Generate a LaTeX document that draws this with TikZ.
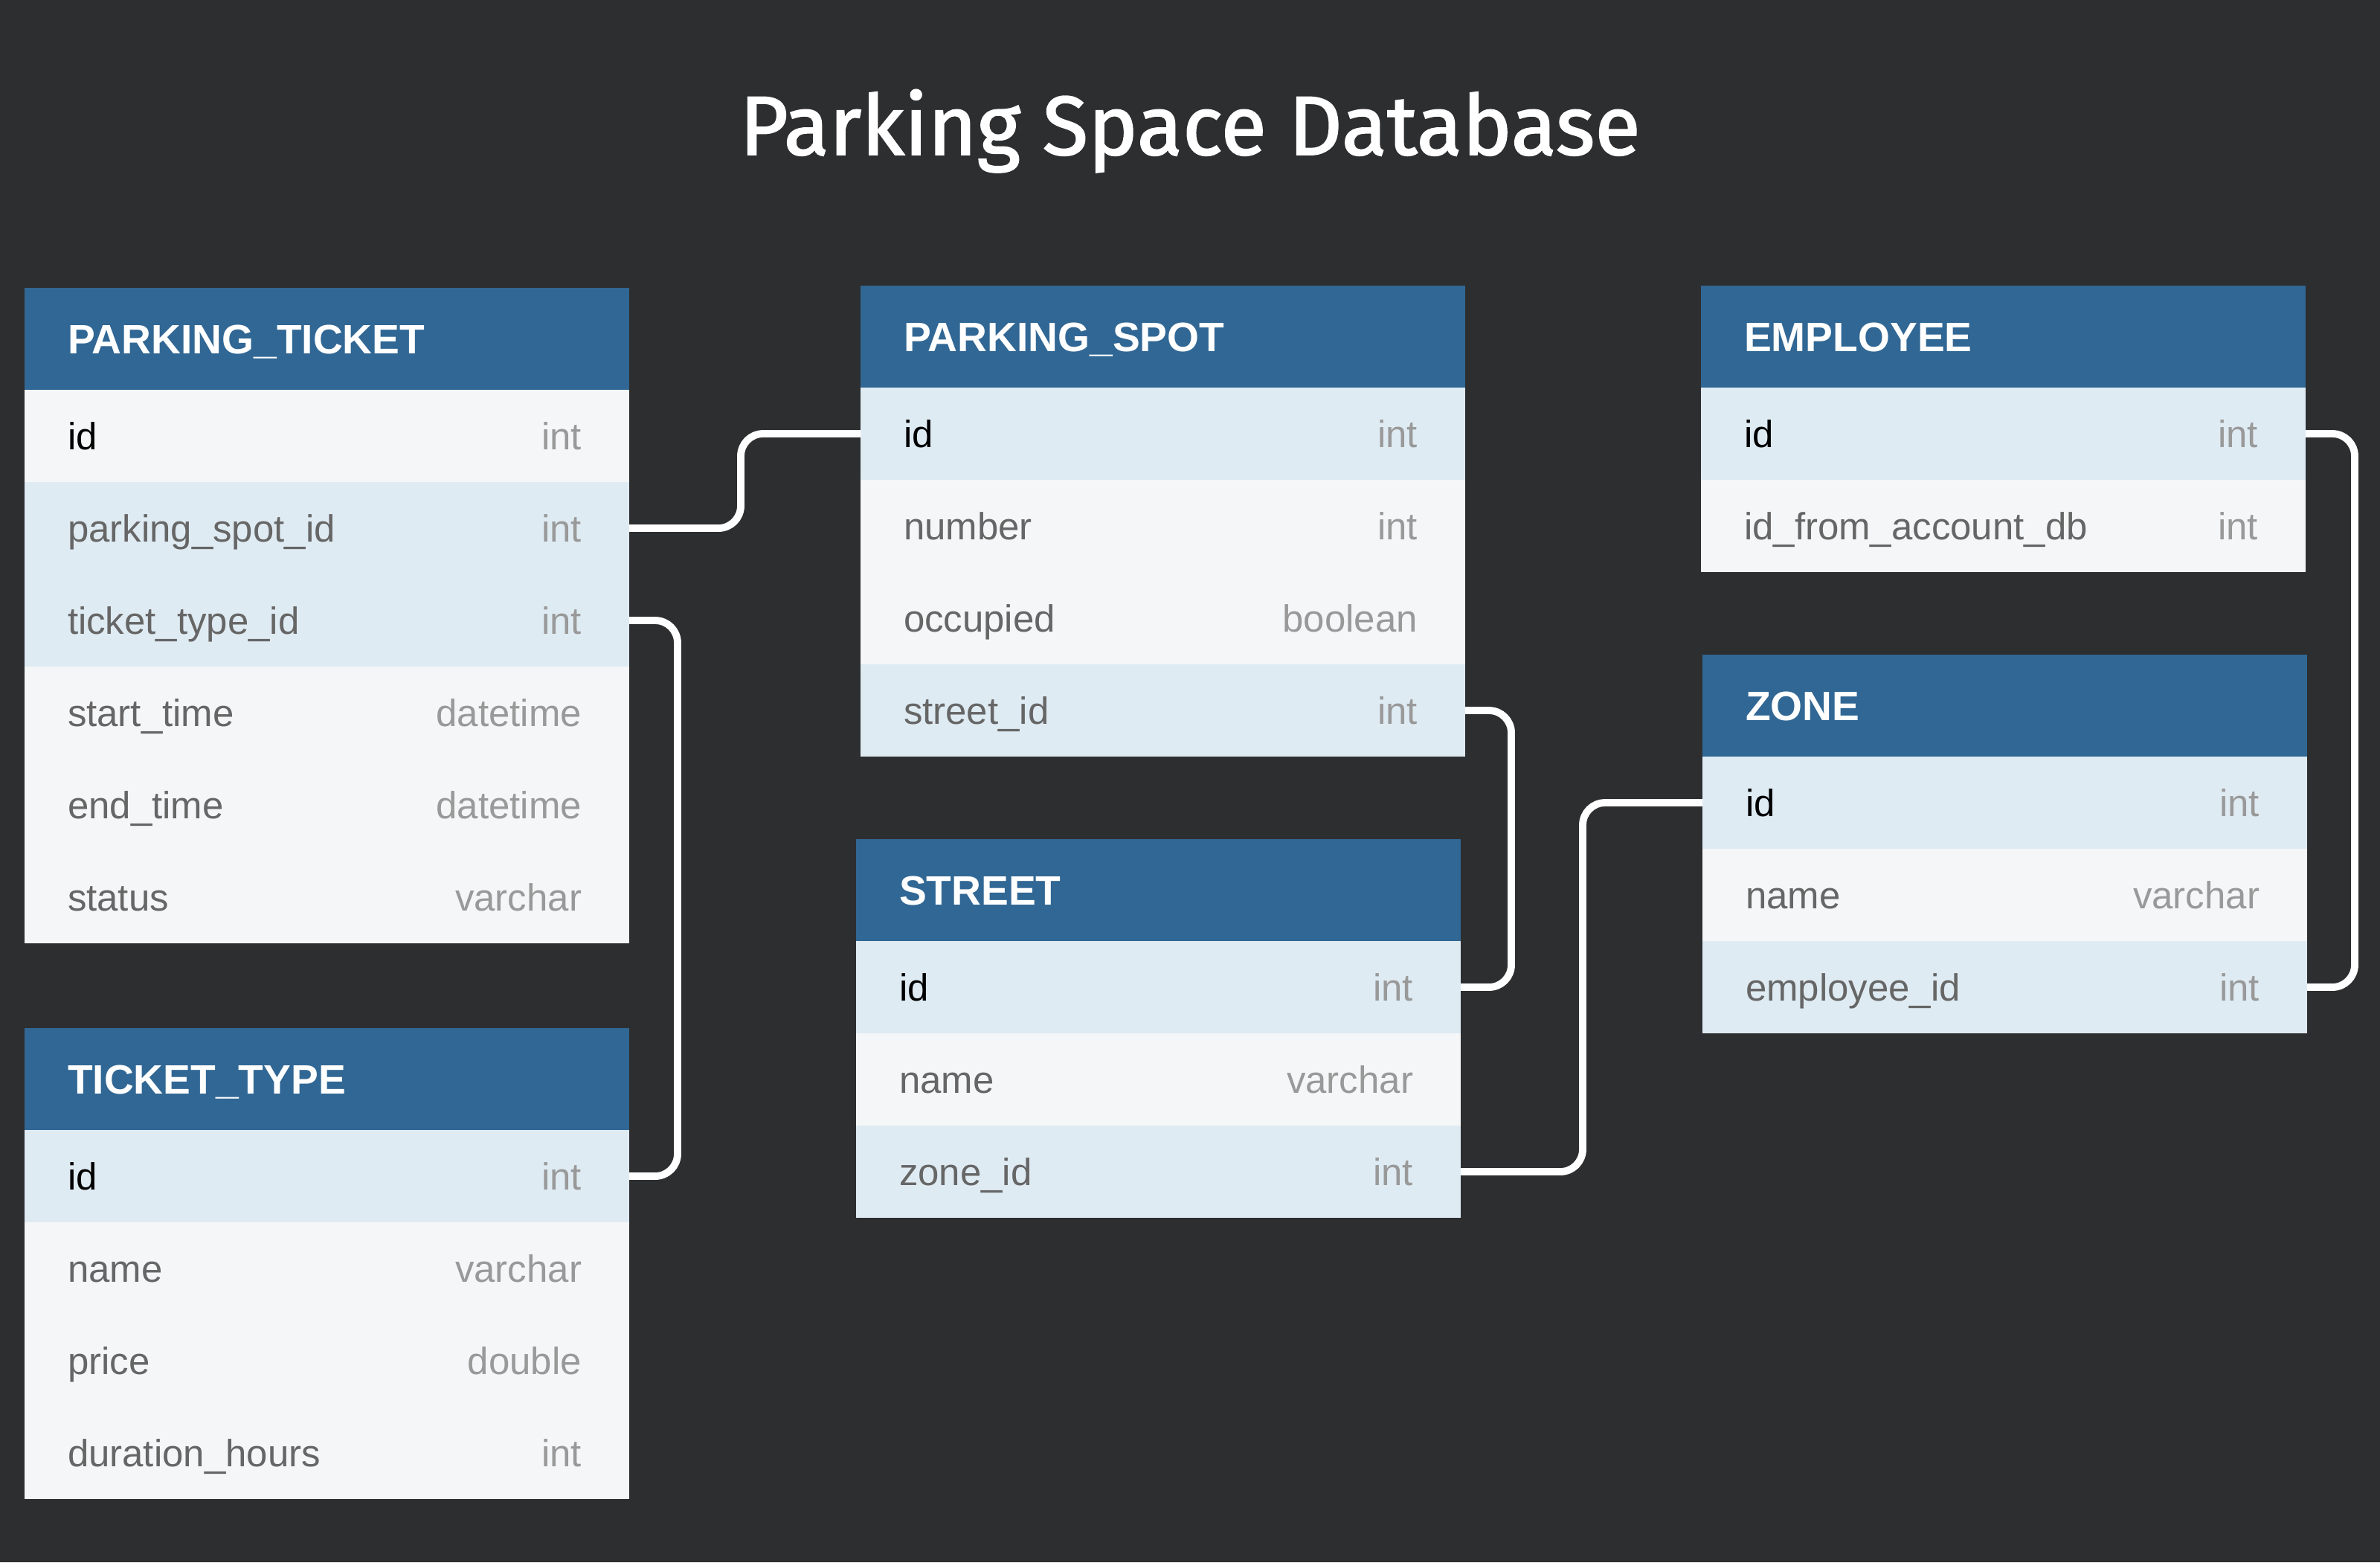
\documentclass[tikz,border=0pt]{standalone}
\usepackage{fontspec}
\setmainfont{Liberation Sans}
\newfontfamily\titlefont[FakeBold=1.6]{Fira Sans}
\usetikzlibrary{positioning}
\definecolor{bgdark}{HTML}{2D2E30}
\definecolor{headblue}{HTML}{316794}
\definecolor{rowblue}{HTML}{DFEBF3}
\definecolor{rowgray}{HTML}{F5F6F7}
\definecolor{namegray}{HTML}{666666}
\definecolor{typegray}{HTML}{999999}

\begin{document}
\begin{tikzpicture}[outer sep=0pt,
    thead/.style={anchor=north west,fill=headblue,text=white,font=\bfseries\fontsize{15.7}{18}\selectfont,
      text width=6.97cm,align=left,inner xsep=0.58cm,inner ysep=0pt,minimum height=1.37cm,
      text height=0.42cm,text depth=0.02cm},
    field/.style={fill=rowgray,text=namegray,font=\fontsize{14.5}{17}\selectfont,
      text width=6.97cm,align=left,inner xsep=0.58cm,inner ysep=0pt,minimum height=1.24cm,
      text height=0.40cm,text depth=0.04cm,below=0pt of #1},
    keyfield/.style={field=#1,fill=rowblue},
    pk/.style={text=black},
    typetext/.style={anchor=east,xshift=-0.64cm,inner sep=0pt,text=typegray,
      font=\fontsize{14.5}{17}\selectfont,text height=0.40cm,text depth=0.04cm},
    typ/.style={label={[typetext]east:#1}},
    link/.style={draw=white,line width=2.8pt,rounded corners=0.3cm}]
  \fill[bgdark] (0,0) rectangle (32,-21);
  \node[anchor=base,text=white,font=\titlefont\fontsize{32}{37}\selectfont] (title) at (16,-2.08) {Parking Space Database};

  % PARKING_TICKET
  \node[thead] (pt) at (0.33,-3.87) {PARKING\_TICKET};
  \node[field=pt,pk,typ=int] (pt-id) {id};
  \node[keyfield=pt-id,typ=int] (pt-spot) {parking\_spot\_id};
  \node[keyfield=pt-spot,typ=int] (pt-type) {ticket\_type\_id};
  \node[field=pt-type,typ=datetime] (pt-start) {start\_time};
  \node[field=pt-start,typ=datetime] (pt-end) {end\_time};
  \node[field=pt-end,typ=varchar] (pt-status) {status};

  % TICKET_TYPE
  \node[thead] (tt) at (0.33,-13.82) {TICKET\_TYPE};
  \node[keyfield=tt,pk,typ=int] (tt-id) {id};
  \node[field=tt-id,typ=varchar] (tt-name) {name};
  \node[field=tt-name,typ=double] (tt-price) {price};
  \node[field=tt-price,typ=int] (tt-hours) {duration\_hours};

  % PARKING_SPOT
  \node[thead] (ps) at (11.57,-3.84) {PARKING\_SPOT};
  \node[keyfield=ps,pk,typ=int] (ps-id) {id};
  \node[field=ps-id,typ=int] (ps-number) {number};
  \node[field=ps-number,typ=boolean] (ps-occupied) {occupied};
  \node[keyfield=ps-occupied,typ=int] (ps-street) {street\_id};

  % STREET
  \node[thead] (st) at (11.51,-11.28) {STREET};
  \node[keyfield=st,pk,typ=int] (st-id) {id};
  \node[field=st-id,typ=varchar] (st-name) {name};
  \node[keyfield=st-name,typ=int] (st-zone) {zone\_id};

  % EMPLOYEE
  \node[thead] (em) at (22.87,-3.84) {EMPLOYEE};
  \node[keyfield=em,pk,typ=int] (em-id) {id};
  \node[field=em-id,typ=int] (em-account) {id\_from\_account\_db};

  % ZONE
  \node[thead] (zn) at (22.89,-8.80) {ZONE};
  \node[keyfield=zn,pk,typ=int] (zn-id) {id};
  \node[field=zn-id,typ=varchar] (zn-name) {name};
  \node[keyfield=zn-name,typ=int] (zn-emp) {employee\_id};

  % relations
  \draw[link] (pt-spot.east) -- ([xshift=1.5cm]pt-spot.east) |- (ps-id.west);
  \draw[link] (pt-type.east) -- ([xshift=0.65cm]pt-type.east) |- (tt-id.east);
  \draw[link] (ps-street.east) -- ([xshift=0.62cm]ps-street.east) |- (st-id.east);
  \draw[link] (st-zone.east) -- ([xshift=1.64cm]st-zone.east) |- (zn-id.west);
  \draw[link] (em-id.east) -- ([xshift=0.66cm]em-id.east) |- (zn-emp.east);
\end{tikzpicture}
\end{document}
